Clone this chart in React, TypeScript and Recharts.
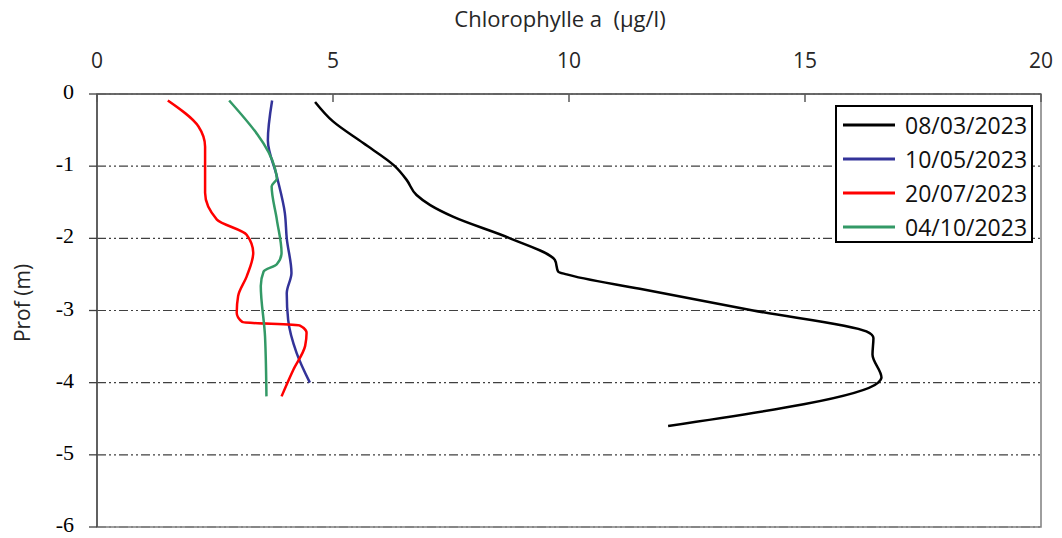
import React from 'react';
import { LineChart, Line, XAxis, YAxis, CartesianGrid, ReferenceArea, Legend } from 'recharts';

// chlorophyll a profiles (µg/l) against depth (m)
const chl0803 = [4.62, 5.0, 5.64, 6.31, 6.56, 6.77, 7.06, 7.54, 8.75, 9.7, 9.77, 9.95, 11.5, 13.9, 16.3, 16.45, 16.43, 16.62, 16.55, 12.1];
const depth0803 = [-0.11, -0.38, -0.68, -1.0, -1.19, -1.4, -1.54, -1.7, -2.0, -2.3, -2.46, -2.5, -2.7, -3.0, -3.29, -3.38, -3.61, -3.93, -4.0, -4.6];

const chl1005 = [3.71, 3.62, 3.81, 3.98, 4.02, 4.12, 4.02, 4.05, 4.23, 4.51];
const depth1005 = [-0.09, -0.64, -1.14, -1.65, -2.0, -2.48, -2.76, -3.13, -3.59, -4.0];

const chl2007 = [1.5, 2.15, 2.29, 2.29, 2.54, 3.17, 3.31, 3.17, 2.99, 2.96, 3.08, 4.3, 4.44, 4.41, 4.16, 3.91];
const depth2007 = [-0.09, -0.45, -0.73, -1.37, -1.74, -1.95, -2.2, -2.53, -2.8, -3.03, -3.16, -3.21, -3.31, -3.49, -3.82, -4.19];

const chl0410 = [2.8, 3.77, 3.81, 3.7, 3.81, 3.91, 3.81, 3.53, 3.47, 3.56, 3.59];
const depth0410 = [-0.09, -1.03, -1.17, -1.28, -1.74, -2.2, -2.36, -2.46, -2.66, -3.36, -4.19];

const xTicks = [0, 5, 10, 15, 20];
const yTicks = [-6, -5, -4, -3, -2, -1, 0];

const toRows = (chl: number[], depth: number[]) => chl.map((c, i) => ({ chl: c, depth: depth[i] }));

const series = [
  { name: '08/03/2023', color: '#000000', data: toRows(chl0803, depth0803) },
  { name: '10/05/2023', color: '#333399', data: toRows(chl1005, depth1005) },
  { name: '20/07/2023', color: '#ff0000', data: toRows(chl2007, depth2007) },
  { name: '04/10/2023', color: '#339966', data: toRows(chl0410, depth0410) },
];

const SANS = '"Open Sans", "Liberation Sans", sans-serif';
const SERIF = '"Liberation Serif", "DejaVu Serif", serif';

const TopTick = (props: any) => {
  const { x, y, payload } = props;
  return (
    <g>
      <line x1={x} x2={x} y1={y} y2={y + 8} stroke="#595959" strokeWidth={1.5} />
      <text x={x} y={y - 26} textAnchor="middle" fontSize={21} fontFamily={SANS} fill="#262626">
        {payload.value}
      </text>
    </g>
  );
};

// plain svg text so the bottom label keeps inside the picture
const LeftTick = (props: any) => {
  const { x, y, payload } = props;
  return (
    <text x={x} y={y} dy={5} textAnchor="end" fontSize={22} fontFamily={SERIF} fill="#000">
      {payload.value}
    </text>
  );
};

// keep the legend in the series order (not sorted)
const LegendBox = () => (
  <div
    style={{
      border: '2px solid #000',
      background: '#fff',
      boxSizing: 'border-box',
      width: 198,
      height: 138,
      paddingTop: 1,
    }}
  >
    {series.map((s) => (
      <div key={s.name} style={{ display: 'flex', alignItems: 'center', height: 34 }}>
        <svg width={62} height={6} style={{ marginLeft: 6 }}>
          <line x1={0} x2={52} y1={3} y2={3} stroke={s.color} strokeWidth={3} />
        </svg>
        <span style={{ fontFamily: SANS, fontSize: 23, color: '#111', lineHeight: '34px' }}>{s.name}</span>
      </div>
    ))}
  </div>
);

export default function App() {
  return (
    <div style={{ position: 'absolute', left: 0, top: 0, width: 1062, height: 538, background: '#fff' }}>
      <LineChart layout="vertical" width={1062} height={538} margin={{ top: 0, right: 21, bottom: 11, left: 0 }}>
        <CartesianGrid horizontal vertical={false} stroke="#404040" strokeDasharray="9 3 2 3 2 3" strokeWidth={1.2} />
        <ReferenceArea x1={0} x2={20} y1={-6} y2={0} fill="none" stroke="#7f7f7f" strokeWidth={1.5} />
        <XAxis
          type="number"
          orientation="top"
          domain={[0, 20]}
          ticks={xTicks}
          interval={0}
          height={94}
          tickSize={0}
          tickMargin={0}
          tick={<TopTick />}
          axisLine={{ stroke: '#595959', strokeWidth: 1.5 }}
          label={{
            value: 'Chlorophylle a\u00A0 (µg/l)',
            position: 'insideTop',
            offset: 11,
            dx: -9,
            style: { fontFamily: SANS, fontSize: 22, fill: '#262626' },
          }}
        />
        <YAxis
          type="number"
          dataKey="depth"
          domain={[-6, 0]}
          ticks={yTicks}
          interval={0}
          reversed
          allowDataOverflow
          width={97}
          tickSize={8}
          tickMargin={15}
          tick={<LeftTick />}
          tickLine={{ stroke: '#404040', strokeWidth: 1.3 }}
          axisLine={{ stroke: '#404040', strokeWidth: 1.3 }}
          label={{
            content: () => (
              <text
                x={22}
                y={303}
                transform="rotate(-90 22 303)"
                textAnchor="middle"
                dominantBaseline="central"
                fontFamily={SANS}
                fontSize={21}
                fill="#262626"
              >
                Prof (m)
              </text>
            ),
          }}
        />
        <Legend
          layout="horizontal"
          verticalAlign="middle"
          align="center"
          content={<LegendBox />}
          wrapperStyle={{ position: 'absolute', left: 835, top: 105, width: 198, height: 138 }}
        />
        {series.map((s) => (
          <Line
            key={s.name}
            data={s.data}
            dataKey="chl"
            name={s.name}
            type="monotone"
            stroke={s.color}
            strokeWidth={2.5}
            dot={false}
            isAnimationActive={false}
          />
        ))}
      </LineChart>
    </div>
  );
}
